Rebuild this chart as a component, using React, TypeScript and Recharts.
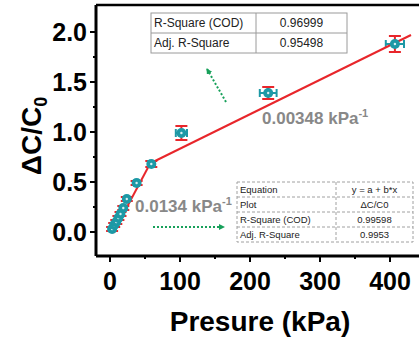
import React from "react";
import { ComposedChart, Scatter, Line, XAxis, YAxis, ErrorBar } from "recharts";

// measured points (pressure in kPa, ΔC/C0)
const pressure = [3, 6, 9, 12, 15, 19, 24, 38, 59, 102, 226, 407];
const deltaC = [0.03, 0.07, 0.1, 0.14, 0.18, 0.24, 0.33, 0.49, 0.68, 0.99, 1.39, 1.88];
const pressureErr = [2, 2, 2, 2, 2, 2, 2, 3, 4, 8, 12, 13];
const deltaCErr = [0.02, 0.02, 0.02, 0.02, 0.02, 0.02, 0.02, 0.02, 0.03, 0.07, 0.06, 0.08];

// linear fits, low and high pressure range
const lowFitX = [4.5, 58.5];
const lowFitY = [-0.01, 0.7];
const highFitX = [58.5, 430];
const highFitY = [0.69, 1.97];

const xTicks = [0, 50, 100, 150, 200, 250, 300, 350, 400, 450];
const xLabels = [0, 100, 200, 300, 400];
const yTicks = [0, 0.25, 0.5, 0.75, 1, 1.25, 1.5, 1.75, 2];
const yLabels = [0, 0.5, 1, 1.5, 2];

const upperTable = [
  ["R-Square (COD)", "0.96999"],
  ["Adj. R-Square", "0.95498"],
];
const lowerTable = [
  ["Equation", "y = a + b*x"],
  ["Plot", "ΔC/C0"],
  ["R-Square (COD)", "0.99598"],
  ["Adj. R-Square", "0.9953"],
];
const lowSlope = "0.0134";
const highSlope = "0.00348";

const TEAL = "#1d99a6";
const RED = "#e8262b";
const GREEN = "#17a05a";
const FONT = "'Liberation Sans', Arial, sans-serif";

const points = pressure.map((x, i) => ({ x, y: deltaC[i], ex: pressureErr[i], ey: deltaCErr[i] }));
const lowFit = lowFitX.map((x, i) => ({ x, y: lowFitY[i] }));
const highFit = highFitX.map((x, i) => ({ x, y: highFitY[i] }));

const XTick = (props: any) => {
  const { x, y, payload } = props;
  const major = xLabels.includes(payload.value);
  return (
    <g>
      <line x1={x} x2={x} y1={y} y2={y + (major ? 6 : 3)} stroke="#000" strokeWidth={2} />
      {major && (
        <text x={x} y={y + 34} textAnchor="middle" fontFamily={FONT} fontWeight="bold" fontSize={25} fill="#000">
          {payload.value}
        </text>
      )}
    </g>
  );
};

const YTick = (props: any) => {
  const { x, y, payload } = props;
  const major = yLabels.includes(payload.value);
  return (
    <g>
      <line x1={x} x2={x - (major ? 6 : 3)} y1={y} y2={y} stroke="#000" strokeWidth={2} />
      {major && (
        <text x={x - 9} y={y + 9} textAnchor="end" fontFamily={FONT} fontWeight="bold" fontSize={25} fill="#000">
          {payload.value.toFixed(1)}
        </text>
      )}
    </g>
  );
};

const Dot = (props: any) => {
  const { cx, cy } = props;
  return (
    <g>
      <circle cx={cx} cy={cy} r={5} fill={TEAL} />
      <circle cx={cx} cy={cy} r={1.2} fill="#d8f0f2" />
    </g>
  );
};

function Table({ x, y, rows, colW, rowH, fontSize, dashed }: any) {
  const w = colW[0] + colW[1];
  const h = rows.length * rowH;
  const dash = dashed ? "3 2" : undefined;
  const stroke = dashed ? "#a0a0a0" : "#9a9a9a";
  return (
    <g fontFamily={FONT} fontSize={fontSize} fill="#222">
      <rect x={x} y={y} width={w} height={h} fill="#fff" stroke={stroke} strokeDasharray={dash} />
      <line x1={x + colW[0]} x2={x + colW[0]} y1={y} y2={y + h} stroke={stroke} strokeDasharray={dash} />
      {rows.map((r: string[], i: number) => (
        <g key={i}>
          {i > 0 && <line x1={x} x2={x + w} y1={y + i * rowH} y2={y + i * rowH} stroke={stroke} strokeDasharray={dash} />}
          <text x={x + 3} y={y + i * rowH + rowH / 2 + fontSize * 0.36}>{r[0]}</text>
          <text x={x + colW[0] + colW[1] / 2} y={y + i * rowH + rowH / 2 + fontSize * 0.36} textAnchor="middle">
            {r[1]}
          </text>
        </g>
      ))}
    </g>
  );
}

export default function App() {
  return (
    <div style={{ position: "absolute", left: 0, top: 0, width: 419, height: 340, overflow: "hidden", background: "#fff" }}>
      <ComposedChart width={439} height={340} margin={{ top: 4, right: 0, bottom: 0, left: 8 }}>
        <XAxis
          dataKey="x"
          type="number"
          domain={[-20, 470]}
          ticks={xTicks}
          interval={0}
          height={84}
          tickLine={false}
          tickSize={0}
          tickMargin={0}
          tick={<XTick />}
          axisLine={{ stroke: "#000", strokeWidth: 3 }}
          allowDataOverflow
        />
        <XAxis
          xAxisId="top"
          orientation="top"
          dataKey="x"
          type="number"
          domain={[-20, 470]}
          height={1}
          tick={false}
          tickLine={false}
          axisLine={{ stroke: "#000", strokeWidth: 2.5 }}
          allowDataOverflow
        />
        <YAxis
          dataKey="y"
          type="number"
          domain={[-0.24, 2.27]}
          ticks={yTicks}
          interval={0}
          width={88}
          tickLine={false}
          tickSize={0}
          tickMargin={0}
          tick={<YTick />}
          axisLine={{ stroke: "#000", strokeWidth: 3 }}
          allowDataOverflow
        />
        <Scatter data={points} dataKey="y" shape={<Dot />} isAnimationActive={false}>
          <ErrorBar dataKey="ey" direction="y" width={6} stroke={RED} strokeWidth={2} />
          <ErrorBar dataKey="ex" direction="x" width={4} stroke={TEAL} strokeWidth={2} />
        </Scatter>
        <Line data={lowFit} dataKey="y" stroke={RED} strokeWidth={2} dot={false} isAnimationActive={false} />
        <Line data={highFit} dataKey="y" stroke={RED} strokeWidth={2} dot={false} isAnimationActive={false} />
      </ComposedChart>
      <svg width={419} height={340} style={{ position: "absolute", left: 0, top: 0, pointerEvents: "none" }}>
        <defs>
          <marker id="ah" markerWidth="6" markerHeight="6" refX="5" refY="3" orient="auto" markerUnits="userSpaceOnUse">
            <path d="M0,0 L6,3 L0,6 Z" fill={GREEN} />
          </marker>
        </defs>
        <text transform="translate(41,136) rotate(-90)" textAnchor="middle" fontFamily={FONT} fontWeight="bold" fontSize={28} fill="#000">
          ΔC/C<tspan fontSize={18} dy={6}>0</tspan>
        </text>
        <text x={260} y={331} textAnchor="middle" fontFamily={FONT} fontWeight="bold" fontSize={28} fill="#000">
          Presure (kPa)
        </text>
        <Table x={151} y={13} rows={upperTable} colW={[105, 91]} rowH={20} fontSize={12} />
        <Table x={237} y={182} rows={lowerTable} colW={[99, 77]} rowH={15} fontSize={9.5} dashed />
        <text x={262} y={124} fontFamily={FONT} fontWeight="bold" fontSize={17} fill="#888">
          {highSlope} kPa<tspan fontSize={11} dy={-7}>-1</tspan>
        </text>
        <text x={135} y={212} fontFamily={FONT} fontWeight="bold" fontSize={17} fill="#888">
          {lowSlope} kPa<tspan fontSize={11} dy={-7}>-1</tspan>
        </text>
        <line x1={226} y1={102} x2={207} y2={69} stroke={GREEN} strokeWidth={2} strokeDasharray="2 2" markerEnd="url(#ah)" />
        <line x1={153} y1={227} x2={224} y2={227} stroke={GREEN} strokeWidth={2} strokeDasharray="2 2" markerEnd="url(#ah)" />
      </svg>
    </div>
  );
}
